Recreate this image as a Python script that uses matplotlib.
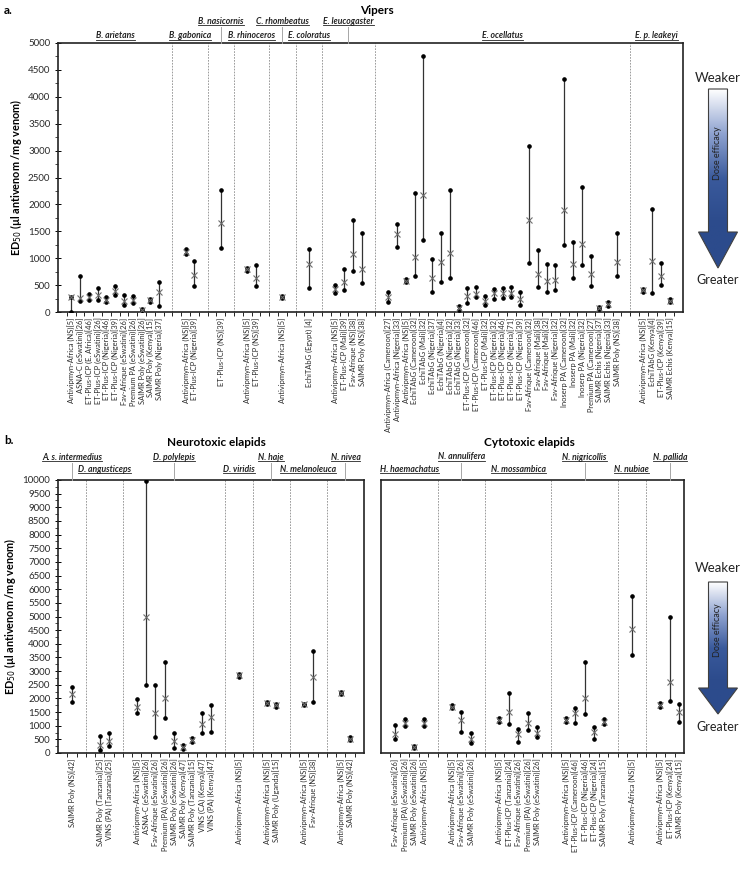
import numpy as np
import matplotlib
matplotlib.use('Agg')
import matplotlib.pyplot as plt
from matplotlib.patches import Polygon
from matplotlib.lines import Line2D
from matplotlib.colors import LinearSegmentedColormap
from matplotlib.ticker import MultipleLocator
import matplotlib.transforms as mtransforms

W, H = 741, 869
plt.rcParams['font.family'] = ['Lato', 'DejaVu Sans']

# ---------------- a. Vipers ----------------
vip_groups = ['B. arietans', 'B. gabonica', 'B. nasicornis', 'B. rhinoceros', 'C. rhombeatus',
              'E. coloratus', 'E. leucogaster', 'E. ocellatus', 'E. p. leakeyi']
vip_sizes = [11, 2, 1, 2, 1, 1, 4, 27, 4]
vip_labels = [
    'Antivipmyn-Africa (NS)[5]', 'ASNA-C (eSwatini)[26]', 'ET-Plus-ICP (E. Africa)[46]',
    'ET-Plus-ICP (eSwatini)[26]', 'ET-Plus-ICP (Nigeria)[46]', 'ET-Plus-ICP (Nigeria)[39]',
    'Fav-Afrique (eSwatini)[26]', 'Premium PA (eSwatini)[26]', 'SAIMR Poly (eSwatini)[26]',
    'SAIMR Poly (Kenya)[15]', 'SAIMR Poly (Nigeria)[37]',
    'Antivipmyn-Africa (NS)[5]', 'ET-Plus-ICP (Nigeria)[39]',
    'ET-Plus-ICP (NS)[39]',
    'Antivipmyn-Africa (NS)[5]', 'ET-Plus-ICP (NS)[39]',
    'Antivipmyn-Africa (NS)[5]',
    'EchiTAbG (Egypt) [4]',
    'Antivipmyn-Africa (NS)[5]', 'ET-Plus-ICP (Mali)[39]', 'Fav-Afrique (NS)[38]', 'SAIMR Poly (NS)[38]',
    'Antivipmyn-Africa (Cameroon)[27]', 'Antivipmyn-Africa (Nigeria)[33]', 'Antivipmyn-Africa (NS)[5]',
    'EchiTAbG (Cameroon)[32]', 'EchiTAbG (Mali)[32]', 'EchiTAbG (Nigeria)[37]', 'EchiTAbG (Nigeria)[4]',
    'EchiTAbG (Nigeria)[32]', 'EchiTAbG (Nigeria)[33]', 'ET-Plus-ICP (Cameroon)[32]',
    'ET-Plus-ICP (Cameroon)[46]', 'ET-Plus-ICP (Mali)[32]', 'ET-Plus-ICP (Nigeria)[32]',
    'ET-Plus-ICP (Nigeria)[46]', 'ET-Plus-ICP (Nigeria)[71]', 'ET-Plus-ICP (Nigeria)[39]',
    'Fav-Afrique (Cameroon)[32]', 'Fav-Afrique (Mali)[38]', 'Fav-Afrique (Mali)[32]',
    'Fav-Afrique (Nigeria)[32]', 'Inoserp PA (Cameroon)[32]', 'Inoserp PA (Mali)[32]',
    'Inoserp PA (Nigeria)[32]', 'Premium PA (Cameroon)[27]', 'SAIMR Echis (Nigeria)[37]',
    'SAIMR Echis (Nigeria)[33]', 'SAIMR Poly (NS)[38]',
    'Antivipmyn-Africa (NS)[5]', 'EchiTAbG (Kenya)[4]', 'ET-Plus-ICP (Kenya)[39]', 'SAIMR Echis (Kenya)[15]',
]
vip_mean = [270, 265, 270, 320, 225, 390, 200, 230, 30, 215, 370,
            1120, 680, 1650, 790, 640, 280, 900, 430, 550, 1070, 790,
            280, 1450, 585, 1020, 2180, 630, 930, 1100, 75, 300, 330, 210, 350, 353, 353, 250,
            1710, 710, 570, 590, 1900, 900, 1270, 700, 75, 150, 930,
            400, 950, 670, 210]
vip_low = [0, 200, 220, 215, 180, 310, 125, 175, 10, 190, 105,
           1070, 480, 1190, 760, 490, 260, 450, 360, 400, 770, 540,
           180, 1200, 560, 660, 1340, 380, 560, 640, 40, 170, 270, 130, 250, 260, 270, 135,
           920, 460, 380, 400, 1250, 630, 880, 480, 50, 120, 660,
           370, 350, 510, 190]
vip_high = [280, 660, 340, 446, 270, 480, 320, 290, 60, 240, 550,
            1170, 950, 2270, 820, 870, 300, 1180, 510, 790, 1710, 1470,
            365, 1630, 610, 2220, 4750, 990, 1460, 2270, 110, 450, 460, 290, 430, 446, 458, 365,
            3080, 1160, 900, 880, 4330, 1300, 2330, 1050, 100, 180, 1470,
            420, 1920, 910, 240]
vip_upper = [0, 0, 1, 0, 1, 0, 1, 0, 0]

# ---------------- b. Neurotoxic elapids ----------------
neuro_groups = ['A. s. intermedius', 'D. angusticeps', 'D. polylepis', 'D. viridis',
                'N. haje', 'N. melanoleuca', 'N. nivea']
neuro_sizes = [1, 2, 9, 1, 2, 2, 2]
neuro_labels = [
    'SAIMR Poly (NS)[42]',
    'SAIMR Poly (Tanzania)[25]', 'VINS (PA) (Tanzania)[25]',
    'Antivipmyn-Africa (NS)[5]', 'ASNA-C (eSwatini)[26]', 'Fav-Afrique (eSwatini)[26]',
    'Premium (PA) (eSwatini)[26]', 'SAIMR Poly (eSwatini)[26]', 'SAIMR Poly (Kenya)[47]',
    'SAIMR Poly (Tanzania)[15]', 'VINS (CA) (Kenya)[47]', 'VINS (PA) (Kenya)[47]',
    'Antivipmyn-Africa (NS)[5]',
    'Antivipmyn-Africa (NS)[5]', 'SAIMR Poly (Uganda)[15]',
    'Antivipmyn-Africa (NS)[5]', 'Fav-Afrique (NS)[38]',
    'Antivipmyn-Africa (NS)[5]', 'SAIMR Poly (NS)[42]',
]
neuro_mean = [2150, 290, 440, 1700, 5000, 1460, 2000, 450, 210, 470, 1050, 1320,
              2850, 1830, 1750, 1790, 2770, 2200, 530]
neuro_low = [1880, 110, 270, 1450, 2500, 580, 1270, 200, 130, 400, 720, 760,
             2800, 1790, 1700, 1770, 1880, 2150, 480]
neuro_high = [2420, 620, 720, 1980, 9950, 2500, 3350, 720, 290, 540, 1480, 1770,
              2900, 1870, 1790, 1810, 3720, 2250, 600]
neuro_upper = [1, 0, 1, 0, 1, 0, 1]

# ---------------- b. Cytotoxic elapids ----------------
cyto_groups = ['H. haemachatus', 'N. annulifera', 'N. mossambica', 'N. nigricollis',
               'N. nubiae', 'N. pallida']
cyto_sizes = [4, 3, 5, 5, 1, 3]
cyto_labels = [
    'Fav-Afrique (eSwatini)[26]', 'Premium (PA) (eSwatini)[26]', 'SAIMR Poly (eSwatini)[26]',
    'Antivipmyn-Africa (NS)[5]',
    'Antivipmyn-Africa (NS)[5]', 'Fav-Afrique (eSwatini)[26]', 'SAIMR Poly (eSwatini)[26]',
    'Antivipmyn-Africa (NS)[5]', 'ET-Plus-ICP (Tanzania)[24]', 'Fav-Afrique (eSwatini)[26]',
    'Premium (PA) (eSwatini)[26]', 'SAIMR Poly (eSwatini)[26]',
    'Antivipmyn-Africa (NS)[5]', 'ET-Plus-ICP (Cameroon)[46]', 'ET-Plus-ICP (Nigeria)[46]',
    'ET-Plus-ICP (Nigeria)[24]', 'SAIMR Poly (Tanzania)[15]',
    'Antivipmyn-Africa (NS)[5]',
    'Antivipmyn-Africa (NS)[5]', 'ET-Plus-ICP (Kenya)[24]', 'SAIMR Poly (Kenya)[15]',
]
cyto_mean = [700, 1100, 220, 1100, 1700, 1200, 530, 1200, 1500, 700, 1100, 740,
             1220, 1450, 2000, 780, 1150, 4550, 1750, 2600, 1500]
cyto_low = [510, 980, 190, 990, 1660, 780, 360, 1140, 1080, 410, 840, 600,
            1150, 1100, 1420, 510, 1080, 3600, 1700, 1900, 1150]
cyto_high = [1020, 1250, 260, 1230, 1740, 1520, 720, 1280, 2200, 870, 1450, 940,
             1280, 1650, 3350, 960, 1250, 5750, 1820, 5000, 1800]
cyto_upper = [0, 1, 0, 1, 0, 1]


def slots(sizes, lead=1, gap=2):
    out, x = [], lead
    for n in sizes:
        out.append(list(range(x, x + n)))
        x += n + gap
    return out


def rect(l, t, r, b):
    return [l / W, 1 - b / H, (r - l) / W, (b - t) / H]


fig = plt.figure(figsize=(W / 100, H / 100), dpi=100)
heads = []


def panel(box, sizes, labels, mean, low, high, xmax, ymax, show_y=True):
    ax = fig.add_axes(rect(*box))
    pos = slots(sizes)
    xs = [x for g in pos for x in g]
    ax.vlines(xs, low, high, color='#333333', lw=0.9, zorder=2)
    ax.plot(xs, low, 'o', ms=2.3, color='black', zorder=3)
    ax.plot(xs, high, 'o', ms=2.3, color='black', zorder=3)
    ax.plot(xs, mean, 'x', ms=5, mew=0.8, color='#6e6e6e', zorder=4)
    for g in pos[:-1]:
        ax.axvline(g[-1] + 1.5, color='#8c8c8c', lw=0.6, ls=(0, (2, 1.5)), zorder=1)
    ax.set_xlim(-0.5, xmax)
    ax.set_ylim(0, ymax)
    ax.set_xticks(xs)
    ax.set_xticklabels(labels, rotation=90, fontsize=5.4, color='#2a2a2a')
    ax.tick_params(axis='x', which='major', length=0, pad=4)
    ax.set_xticks(np.arange(0.5, xmax, 1), minor=True)
    ax.tick_params(axis='x', which='minor', length=3, width=0.6, direction='out')
    ax.yaxis.set_major_locator(MultipleLocator(500))
    ax.yaxis.set_minor_locator(MultipleLocator(250))
    ax.tick_params(axis='y', which='major', length=4, width=0.7, direction='inout', labelsize=7,
                   labelcolor='#2a2a2a')
    ax.tick_params(axis='y', which='minor', length=2, width=0.5, direction='out')
    if not show_y:
        ax.tick_params(axis='y', which='both', left=False, labelleft=False)
    for s in ax.spines.values():
        s.set_linewidth(1.2)
        s.set_color('#222222')
    return ax, pos


def headers(ax, pos, names, upper, y_low, y_up, y_axis):
    trans = mtransforms.blended_transform_factory(ax.transData, fig.transFigure)
    for g, name, up in zip(pos, names, upper):
        cx = (g[0] + g[-1]) / 2
        py = y_up if up else y_low
        t = fig.text(cx, 1 - py / H, name, transform=trans, ha='center', va='center',
                     fontsize=6.2, fontweight='bold', style='italic', color='#222222')
        heads.append(t)
        if up:
            fig.add_artist(Line2D([cx, cx], [1 - (py + 6) / H, 1 - y_axis / H], transform=trans,
                                  color='#a6a6a6', lw=0.7))


ylab = 'ED$_{50}$ (µl antivenom /mg venom)'

axa, pos_a = panel((58, 43, 683, 312), vip_sizes, vip_labels, vip_mean, vip_low, vip_high, 70.5, 5000)
axa.set_ylabel(ylab, fontsize=7.8, fontweight='bold', labelpad=3)
headers(axa, pos_a, vip_groups, vip_upper, 36, 21, 43)

axb, pos_b = panel((58, 480, 364, 753), neuro_sizes, neuro_labels, neuro_mean, neuro_low, neuro_high,
                   32.5, 10000)
axb.set_ylabel(ylab, fontsize=7.8, fontweight='bold', labelpad=3)
headers(axb, pos_b, neuro_groups, neuro_upper, 469, 457, 480)

axc, pos_c = panel((381, 480, 684, 753), cyto_sizes, cyto_labels, cyto_mean, cyto_low, cyto_high,
                   31.5, 10000, show_y=False)
headers(axc, pos_c, cyto_groups, cyto_upper, 469, 457, 480)

# overlay in pixel coordinates for titles and arrows
ov = fig.add_axes([0, 0, 1, 1], zorder=5)
ov.set_autoscale_on(False)
ov.set_xlim(0, W)
ov.set_ylim(H, 0)
ov.axis('off')

ov.text(4, 10, 'a.', fontsize=8.5, fontweight='bold', va='center')
ov.text(377, 10, 'Vipers', fontsize=8.5, fontweight='bold', ha='center', va='center')
ov.text(4, 441, 'b.', fontsize=8.5, fontweight='bold', va='center')
ov.text(216, 443, 'Neurotoxic elapids', fontsize=8.5, fontweight='bold', ha='center', va='center')
ov.text(529, 443, 'Cytotoxic elapids', fontsize=8.5, fontweight='bold', ha='center', va='center')

cmap = LinearSegmentedColormap.from_list('dose', ['#ffffff', '#8ea2d0', '#3a5a9c', '#2c4b8c', '#2c4b8c'])


def dose_arrow(cx, y_weak, top, neck, tip, y_great):
    bw, hw = 9.5, 19.5
    pts = [(cx - bw, top), (cx + bw, top), (cx + bw, neck), (cx + hw, neck), (cx, tip),
           (cx - hw, neck), (cx - bw, neck)]
    poly = Polygon(pts, closed=True, fc='none', ec='#404040', lw=0.8, zorder=3)
    ov.add_patch(poly)
    grad = np.linspace(0, 1, 256).reshape(-1, 1)
    im = ov.imshow(grad, extent=[cx - hw, cx + hw, tip, top], cmap=cmap, aspect='auto',
                   zorder=2, interpolation='bilinear')
    im.set_clip_path(poly)
    ov.text(cx, y_weak, 'Weaker', fontsize=9.5, ha='center', va='center', color='#222222')
    ov.text(cx, y_great, 'Greater', fontsize=9, ha='center', va='center', color='#222222')
    ov.text(cx, top + (neck - top) * 0.45, 'Dose efficacy', fontsize=6.5, rotation=90,
            ha='center', va='center', color='#222222')


dose_arrow(718, 78, 89, 232, 268, 280)
dose_arrow(718, 568, 582, 688, 714, 727)
ov.set_xlim(0, W)
ov.set_ylim(H, 0)

# underline the species headers
fig.canvas.draw()
for t in heads:
    bb = t.get_window_extent()
    fig.add_artist(Line2D([bb.x0 / W, bb.x1 / W], [(bb.y0 + 0.5) / H] * 2,
                          transform=fig.transFigure, color='#222222', lw=0.6))

fig.savefig('out.png', dpi=100)
